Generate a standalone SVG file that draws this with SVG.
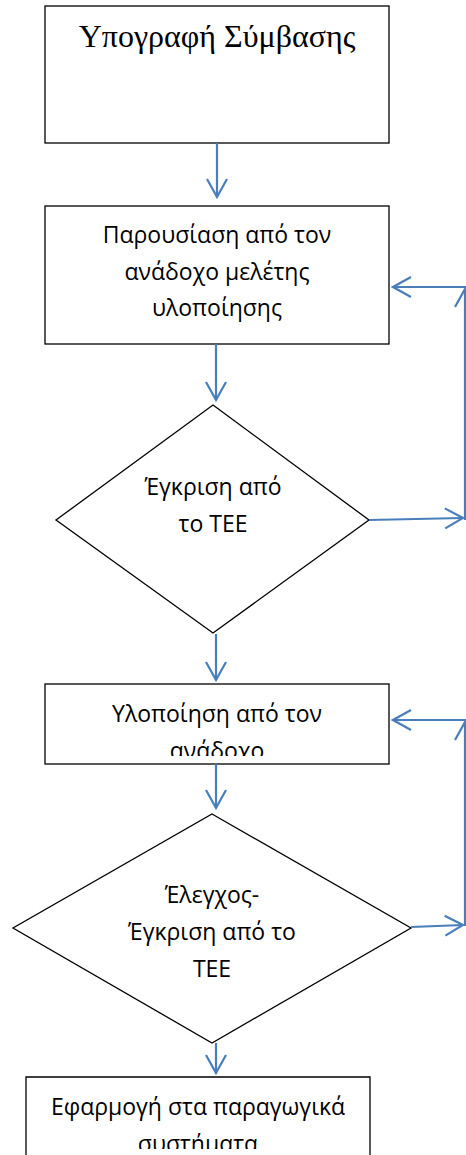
<svg xmlns="http://www.w3.org/2000/svg" width="466" height="1155" viewBox="0 0 466 1155">
<style>
.box{fill:#fff;stroke:#000;stroke-width:1.3}
.t{font-family:"Open Sans","Liberation Sans",sans-serif;font-size:23px;fill:#000;text-anchor:middle}
.s{font-family:"Liberation Serif","Times New Roman",serif;font-size:32px;fill:#000;text-anchor:middle}
.c{fill:none;stroke:#4A7EBB;stroke-width:2.2;marker-end:url(#ah)}
</style>
<defs>
<marker id="ah" markerUnits="userSpaceOnUse" viewBox="-20 -12 22 24" refX="0" refY="0" markerWidth="22" markerHeight="24" orient="auto">
<path d="M-18,-10 L0,0 L-18,10" fill="none" stroke="#4A7EBB" stroke-width="2.2"/>
</marker>
<clipPath id="c3"><rect x="45" y="684" width="344" height="72"/></clipPath>
<clipPath id="c4"><rect x="26" y="1077" width="344" height="72"/></clipPath>
</defs>
<rect width="466" height="1155" fill="#fff"/>
<g id="n1">
<rect class="box" x="45" y="6" width="344" height="137"/>
<text class="s" x="217" y="47">Υπογραφή Σύμβασης</text>
</g>
<g id="n2">
<rect class="box" x="45" y="206" width="344" height="138"/>
<text class="t" x="217" y="243">Παρουσίαση από τον</text>
<text class="t" x="217" y="280">ανάδοχο μελέτης</text>
<text class="t" x="217" y="316">υλοποίησης</text>
</g>
<g id="n3">
<polygon class="box" points="213,405 369,520 213,633 56,520"/>
<text class="t" x="213" y="495">Έγκριση από</text>
<text class="t" x="213" y="532">το ΤΕΕ</text>
</g>
<g id="n4">
<rect class="box" x="45" y="684" width="344" height="80"/>
<g clip-path="url(#c3)">
<text class="t" x="217" y="722">Υλοποίηση από τον</text>
<text class="t" x="217" y="759">ανάδοχο</text>
</g>
</g>
<g id="n5">
<polygon class="box" points="212,814 411,928 212,1043 13,928"/>
<text class="t" x="212" y="903">Έλεγχος-</text>
<text class="t" x="212" y="940">Έγκριση από το</text>
<text class="t" x="212" y="977">ΤΕΕ</text>
</g>
<g id="n6">
<path class="box" d="M26,1160 L26,1077 L370,1077 L370,1160"/>
<g clip-path="url(#c4)">
<text class="t" x="198" y="1115">Εφαρμογή στα παραγωγικά</text>
<text class="t" x="198" y="1152">συστήματα</text>
</g>
</g>
<g id="connectors">
<path class="c" d="M217,143 L217,197"/>
<path class="c" d="M216,344 L216,400"/>
<path class="c" d="M216,634 L216,680"/>
<path class="c" d="M216,764 L216,808"/>
<path class="c" d="M216,1043 L216,1073"/>
<path class="c" d="M369,520 L463,518"/>
<path class="c" d="M465,520 L465,289"/>
<path class="c" d="M466,287 L393,287"/>
<path class="c" d="M411,927 L463,925"/>
<path class="c" d="M465,926 L465,722"/>
<path class="c" d="M466,720 L393,720"/>
</g>
</svg>
